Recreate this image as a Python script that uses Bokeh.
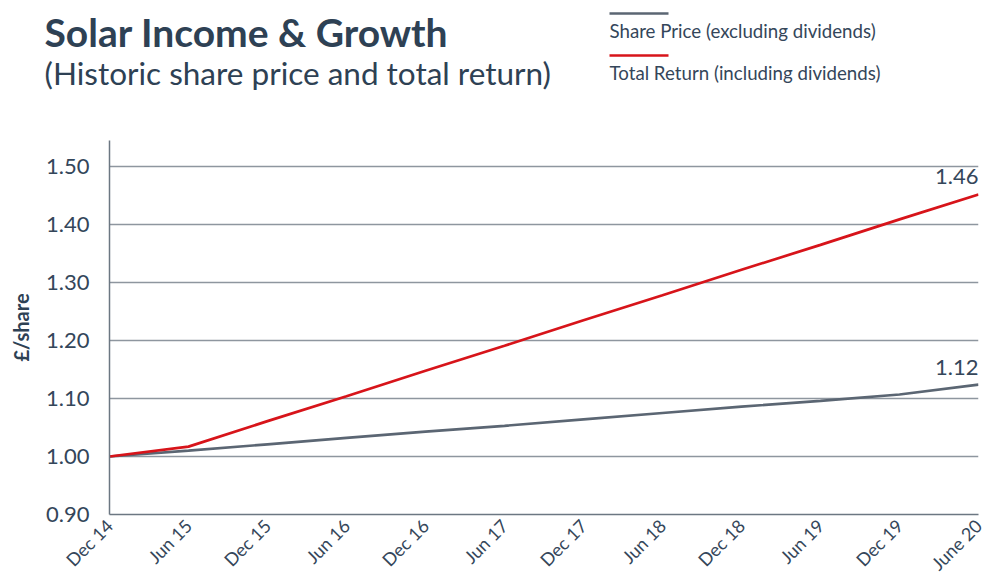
import math
from bokeh.plotting import figure
from bokeh.layouts import column, row
from bokeh.models import Label, FixedTicker, Range1d
from bokeh.core.properties import value
from bokeh.embed import file_html
from bokeh.resources import INLINE

# ---- data ----
periods = ["Dec 14", "Jun 15", "Dec 15", "Jun 16", "Dec 16", "Jun 17",
           "Dec 17", "Jun 18", "Dec 18", "Jun 19", "Dec 19", "June 20"]
share_price = [1.000, 1.010, 1.021, 1.032, 1.043, 1.053,
               1.064, 1.075, 1.086, 1.096, 1.107, 1.124]
total_return = [1.000, 1.017, 1.061, 1.104, 1.148, 1.191,
                1.235, 1.278, 1.322, 1.365, 1.409, 1.452]
y_ticks = [0.90, 1.00, 1.10, 1.20, 1.30, 1.40, 1.50]
end_labels = ["1.46", "1.12"]
series_names = ["Share Price (excluding dividends)",
                "Total Return (including dividends)"]
title_text = "Solar Income & Growth"
subtitle_text = "(Historic share price and total return)"

GREY = "#5b6673"
RED = "#d7141a"
TEXT = "#34465a"
TITLE = "#2e4154"
FONT = "Lato"
W = 992
TOP_H = 140

# ---------- header figure (title + legend), pixel-like coordinates ----------
h = figure(width=W, height=TOP_H, frame_width=W, frame_height=TOP_H,
           output_backend="svg", toolbar_location=None,
           x_axis_type=None, y_axis_type=None,
           x_range=Range1d(0, W), y_range=Range1d(TOP_H, 0),
           min_border=0, outline_line_color=None)
h.grid.visible = False
h.background_fill_color = "white"
h.border_fill_color = "white"

h.text(x=[44], y=[31], text=[title_text], text_font=value(FONT),
       text_font_style="bold", text_font_size="39px", text_color=TITLE,
       text_baseline="middle")
h.text(x=[44], y=[72], text=[subtitle_text], text_font=value(FONT),
       text_font_size="31.5px", text_color=TITLE, text_baseline="middle")
h.segment(x0=[609, 609], y0=[13, 55], x1=[668, 668], y1=[13, 55],
          line_color=[GREY, RED], line_width=2.6)
h.text(x=[609, 609], y=[30, 72], text=series_names, text_font=value(FONT),
       text_font_size="18.7px", text_color=TEXT, text_baseline="middle")

# ---------- main chart ----------
idx = list(range(len(periods)))

p = figure(frame_width=869, frame_height=374, output_backend="svg",
           toolbar_location=None,
           x_range=Range1d(0, len(periods) - 1), y_range=Range1d(0.90, 1.545),
           min_border_left=109, min_border_right=14, min_border_top=0,
           min_border_bottom=0)
p.outline_line_color = None
p.background_fill_color = "white"
p.border_fill_color = "white"

p.xgrid.grid_line_color = None
p.ygrid.ticker = FixedTicker(ticks=y_ticks[1:])
p.ygrid.grid_line_color = "#8e969f"
p.ygrid.grid_line_width = 1.5

p.yaxis.ticker = FixedTicker(ticks=y_ticks)
p.yaxis.major_label_overrides = {t: f"{t:.2f}" for t in y_ticks}
p.xaxis.ticker = FixedTicker(ticks=idx)
p.xaxis.major_label_overrides = {i: s for i, s in enumerate(periods)}
p.xaxis.major_label_orientation = math.pi / 4
for ax in (p.xaxis, p.yaxis):
    ax.axis_line_color = "#6c7782"
    ax.axis_line_width = 1.5
    ax.major_tick_out = 0
    ax.major_tick_in = 0
    ax.minor_tick_out = 0
    ax.minor_tick_in = 0
    ax.major_label_text_font = FONT
    ax.major_label_text_color = TEXT
p.yaxis.major_label_text_font_size = "22px"
p.yaxis.major_label_standoff = 20
p.xaxis.major_label_text_font_size = "18px"
p.xaxis.major_label_standoff = 8
p.yaxis.axis_label = "£/share"
p.yaxis.axis_label_text_font = FONT
p.yaxis.axis_label_text_font_style = "bold"
p.yaxis.axis_label_text_font_size = "20px"
p.yaxis.axis_label_text_color = TITLE
p.yaxis.axis_label_standoff = 10

p.line(idx, share_price, line_color=GREY, line_width=2.7)
p.line(idx, total_return, line_color=RED, line_width=2.7)

p.add_layout(Label(x=idx[-1], y=total_return[-1], text=end_labels[0],
                   text_align="right", y_offset=10, text_font=FONT,
                   text_font_size="22px", text_color=TEXT))
p.add_layout(Label(x=idx[-1], y=share_price[-1], text=end_labels[1],
                   text_align="right", y_offset=10, text_font=FONT,
                   text_font_size="22px", text_color=TEXT))

layout = column(row(h), row(p), spacing=0)
open("out.html", "w").write(file_html(layout, INLINE))
